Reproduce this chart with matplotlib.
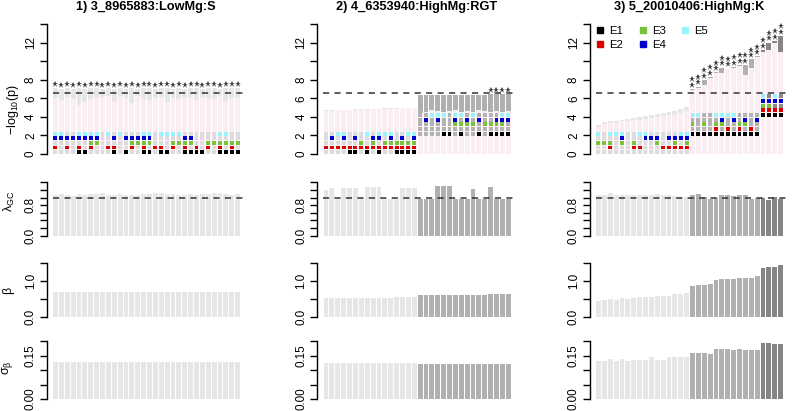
"""
Three-column bar panel: -log10(p), lambda_GC, beta and se(beta) per model
"""
import matplotlib
matplotlib.use('Agg')
import matplotlib.pyplot as plt

plt.rcParams['font.family'] = ['Liberation Sans', 'DejaVu Sans']
plt.rcParams['mathtext.fontset'] = 'custom'
plt.rcParams['mathtext.rm'] = 'Liberation Sans'
plt.rcParams['mathtext.it'] = 'Liberation Sans:italic'

W, H = 792, 411

titles = ['1) 3_8965883:LowMg:S', '2) 4_6353940:HighMg:RGT', '3) 5_20010406:HighMg:K']
threshold = 6.52
elements = ['E1', 'E2', 'E3', 'E4', 'E5']
element_colors = ['#000000', '#DD0000', '#77C43A', '#0000CC', '#98F5FF']

# ---- panel 1 ----
p1_hi = [7.1, 7.0, 7.1, 7.0, 7.1, 7.0, 7.1, 7.1, 7.0, 7.1, 7.0, 7.1, 7.0, 7.1, 7.0, 7.1,
         7.1, 7.0, 7.1, 7.1, 7.0, 7.1, 7.0, 7.1, 7.1, 7.0, 7.1, 7.1, 7.0, 7.1, 7.1, 7.1]
p1_lo = [6.0, 5.8, 6.1, 5.9, 5.3, 5.6, 5.9, 6.0, 6.1, 6.2, 5.7, 6.2, 6.0, 5.5, 6.2, 5.9,
         5.8, 6.0, 6.1, 5.6, 6.0, 5.9, 6.0, 6.1, 5.8, 6.1, 5.9, 6.0, 6.2, 5.7, 6.0, 6.0]
p1_stars = [1] * 32
p1_group = [0] * 32
p1_E1 = [0,0,0,0,1,1,0,0,0,0,1,0,1,0,0,1,1,0,1,1,0,0,1,1,1,1,0,0,1,1,1,1]
p1_E2 = [1,0,1,0,1,0,1,0,0,1,1,0,0,1,0,1,0,1,1,0,1,0,1,0,1,0,1,0,1,0,1,0]
p1_E3 = [0,0,0,0,0,0,1,1,0,0,0,0,0,1,1,1,1,0,0,0,1,1,1,1,0,0,1,1,1,1,1,1]
p1_E4 = [1,1,1,1,1,1,1,1,0,0,1,0,1,1,1,1,1,0,0,0,0,0,1,1,0,0,0,0,0,0,0,0]
p1_E5 = [1,1,0,0,1,1,1,1,0,1,0,1,0,0,0,1,1,0,1,1,1,1,0,0,0,0,0,0,1,1,0,0]
p1_lambda = [1.08, 1.10, 1.07, 1.05, 1.09, 1.08, 1.10, 1.09, 1.11, 1.08, 1.07, 1.09, 1.08, 1.06, 1.08, 1.09,
             1.10, 1.12, 1.11, 1.09, 1.10, 1.08, 1.07, 1.09, 1.08, 1.10, 1.09, 1.11, 1.12, 1.10, 1.08, 1.09]
p1_beta = [0.68] * 32
p1_se = [0.126] * 32

# ---- panel 2 ----
p2_hi = [4.70, 4.72, 4.74, 4.76, 4.78, 4.80, 4.82, 4.84, 4.86, 4.88, 4.90, 4.92, 4.94, 4.96, 4.98, 5.00,
         6.35, 6.35, 6.36, 6.36, 6.37, 6.37, 6.38, 6.38, 6.39, 6.39, 6.40, 6.40, 6.45, 6.45, 6.46, 6.46]
p2_lo = [4.65, 4.67, 4.69, 4.71, 4.73, 4.75, 4.77, 4.79, 4.81, 4.83, 4.85, 4.87, 4.89, 4.91, 4.93, 4.95,
         4.40, 4.50, 4.70, 4.60, 4.50, 4.60, 4.70, 4.55, 4.65, 4.55, 4.70, 4.60, 4.50, 4.65, 4.55, 4.60]
p2_stars = [0] * 28 + [1] * 4
p2_group = [0] * 16 + [1] * 16
p2_E1 = [0,0,0,0,1,1,0,1,0,1,0,0,1,1,1,1, 0,0,0,0,1,1,0,1,0,0,1,0,1,1,1,1]
p2_E2 = [1] * 16 + [0] * 16
p2_E3 = [0,0,0,0,0,0,1,0,1,0,1,1,1,1,1,1, 0,0,0,0,0,0,1,1,1,1,0,1,1,1,1,0]
p2_E4 = [0,1,0,1,0,1,0,0,1,1,0,1,0,1,0,1, 0,1,0,1,0,0,1,0,1,0,1,0,0,1,1,1]
p2_E5 = [0,0,1,1,0,0,0,1,0,1,1,1,0,0,1,1, 0,0,1,1,1,0,1,1,0,1,0,0,0,0,1,1]
p2_lambda = [1.20, 1.26, 0.97, 1.24, 1.24, 1.24, 0.97, 1.28, 1.28, 1.28, 0.97, 0.97, 0.97, 1.25, 1.25, 1.25,
             0.97, 0.97, 0.97, 1.31, 1.31, 1.31, 0.97, 0.97, 0.97, 1.23, 0.97, 0.97, 1.28, 0.97, 0.97, 0.97]
p2_beta = [0.52, 0.52, 0.52, 0.52, 0.52, 0.52, 0.53, 0.53, 0.53, 0.53, 0.53, 0.53, 0.54, 0.54, 0.54, 0.54,
           0.61, 0.61, 0.61, 0.61, 0.62, 0.62, 0.62, 0.62, 0.62, 0.62, 0.62, 0.62, 0.63, 0.63, 0.63, 0.63]
p2_se = [0.125] * 16 + [0.121] * 16

# ---- panel 3 ----
p3_hi = [3.10, 3.40, 3.50, 3.55, 3.70, 3.80, 3.90, 4.00, 4.10, 4.20, 4.30, 4.45, 4.55, 4.65, 4.80, 5.05,
         7.00, 7.25, 8.00, 8.30, 8.80, 9.30, 9.20, 9.40, 9.60, 9.60, 10.20, 10.50,
         11.2, 12.0, 12.2, 12.7]
p3_lo = [2.90, 3.20, 3.30, 3.35, 3.50, 3.55, 3.65, 3.70, 3.80, 3.85, 3.95, 4.05, 4.15, 4.25, 4.40, 4.60,
         6.90, 7.15, 7.45, 8.20, 8.70, 8.70, 9.10, 9.30, 9.50, 8.50, 9.30, 10.40,
         11.0, 11.2, 11.9, 11.0]
p3_stars = [0] * 16 + [2] * 16
p3_group = [0] * 16 + [1] * 12 + [2] * 4
p3_E1 = [0] * 16 + [1] * 16
p3_E2 = [0,0,1,0,0,0,1,1,0,0,0,1,1,1,1,1, 0,0,0,0,1,0,1,0,1,0,1,0, 1,1,1,1]
p3_E3 = [1,1,1,0,1,0,1,0,0,0,1,0,0,1,0,1, 1,0,1,0,1,1,0,0,1,1,0,0, 1,1,0,0]
p3_E4 = [0,0,0,0,1,0,0,0,1,1,1,0,1,1,1,1, 0,0,0,0,0,1,0,1,0,1,0,1, 1,1,1,1]
p3_E5 = [1,0,1,1,1,0,0,1,1,0,0,0,0,0,1,1, 1,1,0,0,1,1,1,1,0,0,0,0, 1,0,1,0]
p3_lambda = [1.08, 1.07, 1.11, 1.07, 1.08, 1.07, 1.08, 1.07, 1.07, 1.08, 1.10, 1.07, 1.06, 1.04, 1.01, 1.01,
             1.06, 1.09, 1.02, 0.95, 1.00, 1.08, 1.06, 1.04, 1.06, 1.06, 0.97, 1.00,
             1.00, 0.93, 1.01, 0.97]
p3_beta = [0.44, 0.47, 0.50, 0.47, 0.52, 0.50, 0.53, 0.54, 0.55, 0.56, 0.59, 0.57, 0.58, 0.63, 0.63, 0.66,
           0.85, 0.88, 0.88, 0.91, 1.03, 1.07, 1.07, 1.07, 1.10, 1.10, 1.10, 1.14,
           1.38, 1.41, 1.41, 1.44]
p3_se = [0.131, 0.131, 0.137, 0.130, 0.137, 0.131, 0.136, 0.136, 0.136, 0.146, 0.135, 0.136, 0.146, 0.146, 0.146, 0.146,
         0.160, 0.159, 0.159, 0.156, 0.172, 0.172, 0.171, 0.170, 0.171, 0.170, 0.170, 0.170,
         0.193, 0.192, 0.191, 0.189]

panels = [
    dict(hi=p1_hi, lo=p1_lo, stars=p1_stars, group=p1_group, E=[p1_E1, p1_E2, p1_E3, p1_E4, p1_E5],
         lam=p1_lambda, beta=p1_beta, se=p1_se),
    dict(hi=p2_hi, lo=p2_lo, stars=p2_stars, group=p2_group, E=[p2_E1, p2_E2, p2_E3, p2_E4, p2_E5],
         lam=p2_lambda, beta=p2_beta, se=p2_se),
    dict(hi=p3_hi, lo=p3_lo, stars=p3_stars, group=p3_group, E=[p3_E1, p3_E2, p3_E3, p3_E4, p3_E5],
         lam=p3_lambda, beta=p3_beta, se=p3_se),
]

# shades per group: bar gray, square gray, square row offset
group_bar = ['#E6E6E6', '#B0B0B0', '#858585']
group_sq = ['#DCDCDC', '#B3B3B3', '#8A8A8A']
group_base = [0.0, 2.0, 4.0]
pink = '#FAEEF2'

col_left = [46.7, 317.3, 589.7]
col_width = 198
rows = {
    'p': (24, 154, 0, 14, [0, 2, 4, 6, 8, 10, 12, 14], ['0', '2', '4', '6', '8', '', '12', '']),
    'lam': (182.3, 235.7, 0, 1.4, [0, .2, .4, .6, .8, 1.0, 1.2, 1.4],
            ['0.0', '', '', '', '0.8', '', '', '']),
    'beta': (263.3, 316.7, 0, 1.5, [0, .5, 1.0, 1.5], ['0.0', '', '1.0', '']),
    'se': (341, 399, 0, 0.2, [0, .05, .1, .15, .2], ['0.00', '', '', '0.15', '']),
}


def px_axes(fig, left, top, width, bottom):
    return fig.add_axes([left / W, 1 - bottom / H, width / W, (bottom - top) / H])


def style_axis(ax, ymin, ymax, ticks, labels):
    ax.set_xlim(-1.49, 32.2)
    ax.set_ylim(ymin, ymax)
    for s in ['top', 'right', 'bottom']:
        ax.spines[s].set_visible(False)
    ax.spines['left'].set_bounds(ticks[0], ticks[-1])
    ax.spines['left'].set_linewidth(1.0)
    ax.set_xticks([])
    ax.set_yticks(ticks)
    ax.set_yticklabels(labels, rotation=90, va='center', fontsize=8.4)
    ax.tick_params(axis='y', length=5, width=1.0, pad=2)
    ax.patch.set_visible(False)


fig = plt.figure(figsize=(W / 100, H / 100), dpi=100)
bw = 0.83
x = list(range(32))

for c, d in enumerate(panels):
    L = col_left[c]
    # ---- -log10(p) ----
    top, bot, y0, y1, ticks, labels = rows['p']
    ax = px_axes(fig, L, top, col_width, bot)
    style_axis(ax, y0, y1, ticks, labels)
    bar_cols = [group_bar[g] for g in d['group']]
    sq_cols = [group_sq[g] for g in d['group']]
    ax.bar(x, d['hi'], width=bw, color=pink, zorder=1)
    seg = [h - l for h, l in zip(d['hi'], d['lo'])]
    ax.bar(x, seg, bottom=d['lo'], width=bw, color=bar_cols, zorder=2)
    for k in range(5):
        ys = [group_base[g] + 0.2 + 0.5 * k for g in d['group']]
        cols = [element_colors[k] if e else sq_cols[i] for i, e in enumerate(d['E'][k])]
        ax.scatter(x, ys, marker='s', s=8, c=cols, linewidths=0, zorder=3)
    for i, n in enumerate(d['stars']):
        for j in range(n):
            ax.plot(i, d['hi'][i] + 0.45 + 0.6 * j, marker='*', ms=4.5, color='#404040',
                    mew=0, clip_on=False, zorder=4)
    ax.axhline(threshold, xmin=0.03, xmax=1.0, color='#333333', lw=1.1, ls=(0, (4, 3.5)), zorder=5)
    ax.set_title(titles[c], fontsize=9.2, fontweight='bold', pad=10)
    if c == 2:
        handles = [plt.Line2D([], [], ls='none', marker='s', ms=4.6, color=element_colors[k],
                              label=elements[k]) for k in range(5)]
        ax.legend(handles=handles, ncol=3, loc='upper left', bbox_to_anchor=(-0.01, 1.035),
                  frameon=False, fontsize=8.2, handletextpad=0.3, columnspacing=1.2,
                  handlelength=1.0, labelspacing=0.35, borderaxespad=0.2)

    # ---- lambda_GC ----
    top, bot, y0, y1, ticks, labels = rows['lam']
    ax = px_axes(fig, L, top, col_width, bot)
    style_axis(ax, y0, y1, ticks, labels)
    ax.bar(x, d['lam'], width=bw, color=bar_cols)
    ax.axhline(1.0, xmin=0.03, color='#333333', lw=1.1, ls=(0, (4, 3.5)))

    # ---- beta ----
    top, bot, y0, y1, ticks, labels = rows['beta']
    ax = px_axes(fig, L, top, col_width, bot)
    style_axis(ax, y0, y1, ticks, labels)
    ax.bar(x, d['beta'], width=bw, color=bar_cols)

    # ---- se(beta) ----
    top, bot, y0, y1, ticks, labels = rows['se']
    ax = px_axes(fig, L, top, col_width, bot)
    style_axis(ax, y0, y1, ticks, labels)
    ax.bar(x, d['se'], width=bw, color=bar_cols)

# y labels for first column
fig.text(13 / W, 1 - 110 / H, '\u2212log$_{\\mathregular{10}}$(p)', rotation=90,
         ha='center', va='center', fontsize=9)
fig.text(9 / W, 1 - 201 / H, '\u03bb$_{\\mathregular{GC}}$', rotation=90,
         ha='center', va='center', fontsize=9)
fig.text(8 / W, 1 - 290 / H, '\u03b2', rotation=90, ha='center', va='center', fontsize=9)
fig.text(8 / W, 1 - 368 / H, '\u03c3$_{\\mathregular{\u03b2}}$', rotation=90,
         ha='center', va='center', fontsize=9)

fig.savefig('out.png', dpi=100)
